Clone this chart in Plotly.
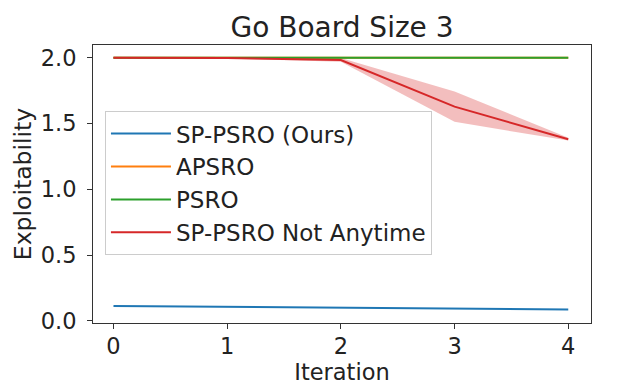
import plotly.graph_objects as go

iterations = [0, 1, 2, 3, 4]

sp_psro = [0.114, 0.106, 0.099, 0.092, 0.086]
apsro = [2.0, 2.0, 2.0, 2.0, 2.0]
psro = [2.0, 2.0, 2.0, 2.0, 2.0]
not_anytime = [2.0, 1.998, 1.982, 1.628, 1.380]
not_anytime_lo = [2.0, 1.993, 1.968, 1.512, 1.370]
not_anytime_hi = [2.0, 2.0, 1.998, 1.742, 1.392]

FONT = "DejaVu Sans"

fig = go.Figure()

# shaded band for the not-anytime variant
fig.add_trace(go.Scatter(x=iterations, y=not_anytime_hi, mode="lines",
                         line=dict(width=0), showlegend=False, hoverinfo="skip"))
fig.add_trace(go.Scatter(x=iterations, y=not_anytime_lo, mode="lines",
                         line=dict(width=0), fill="tonexty",
                         fillcolor="rgba(214,39,40,0.3)", showlegend=False, hoverinfo="skip"))

fig.add_trace(go.Scatter(x=iterations, y=sp_psro, mode="lines", name="SP-PSRO (Ours)",
                         legendgroup="a", line=dict(color="#1f77b4", width=2)))
fig.add_trace(go.Scatter(x=iterations, y=apsro, mode="lines", name="APSRO",
                         legendgroup="b", line=dict(color="#ff7f0e", width=2)))
fig.add_trace(go.Scatter(x=iterations, y=psro, mode="lines", name="PSRO",
                         legendgroup="c", line=dict(color="#2ca02c", width=2)))
fig.add_trace(go.Scatter(x=iterations, y=not_anytime, mode="lines", name="SP-PSRO Not Anytime",
                         legendgroup="d", line=dict(color="#d62728", width=2)))

axis_style = dict(showline=True, linecolor="#333", linewidth=1, mirror=True,
                  ticks="outside", ticklen=5, tickcolor="#333", showgrid=False,
                  zeroline=False, automargin=False, tickfont=dict(size=22.5, color="#222"))

fig.update_layout(
    width=617, height=388,
    margin=dict(l=93, r=26, t=45, b=65),
    paper_bgcolor="white", plot_bgcolor="white",
    font=dict(family=FONT, size=22.5, color="#222"),
    title=dict(text="Go Board Size 3", x=0.5, xref="paper", xanchor="center",
               y=0.93, yanchor="middle", font=dict(size=28)),
    xaxis=dict(range=[-0.18, 4.2], tickvals=iterations, ticklabelstandoff=-2,
               title=dict(text="Iteration", standoff=2, font=dict(size=22.5)),
               **axis_style),
    yaxis=dict(range=[-0.016, 2.096], tickvals=[0, 0.5, 1.0, 1.5, 2.0], tickformat=".1f",
               ticklabelstandoff=6,
               title=dict(text="Exploitability", standoff=2, font=dict(size=23.5)),
               **axis_style),
    legend=dict(x=0.024, y=0.762, xanchor="left", yanchor="top",
                bgcolor="rgba(255,255,255,0.8)", bordercolor="#ccc", borderwidth=1,
                font=dict(size=23), traceorder="grouped", tracegroupgap=0, itemwidth=60),
)

# page body has a default 8px margin; drop it so the figure sits at the window corner
fig.write_html("out.html", config={"displayModeBar": False},
               post_script="document.body.style.margin='0';")
